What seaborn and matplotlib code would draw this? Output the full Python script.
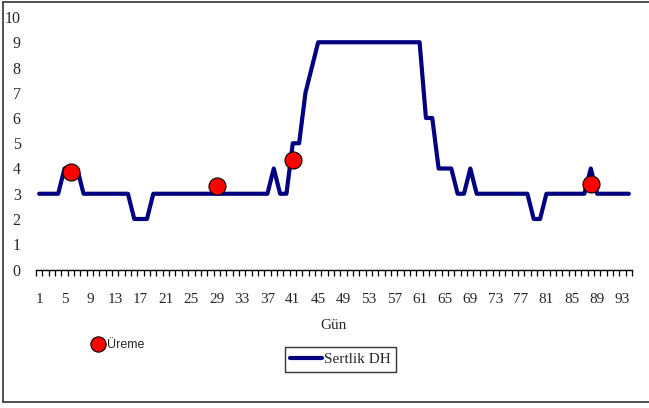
import numpy as np
import matplotlib
matplotlib.use('Agg')
import matplotlib.pyplot as plt
from matplotlib.lines import Line2D
import seaborn as sns

#%%
# Günlük sertlik değerleri (DH), gün 1..94
gun = list(range(1, 95))
sertlik = [3, 3, 3, 3, 4, 4, 4, 3, 3, 3,
           3, 3, 3, 3, 3, 2, 2, 2, 3, 3,
           3, 3, 3, 3, 3, 3, 3, 3, 3, 3,
           3, 3, 3, 3, 3, 3, 3, 4, 3, 3,
           5, 5, 7, 8, 9, 9, 9, 9, 9, 9,
           9, 9, 9, 9, 9, 9, 9, 9, 9, 9,
           9, 6, 6, 4, 4, 4, 3, 3, 4, 3,
           3, 3, 3, 3, 3, 3, 3, 3, 2, 2,
           3, 3, 3, 3, 3, 3, 3, 4, 3, 3,
           3, 3, 3, 3]

# Üreme görülen günler
ureme_gun = [6, 29, 41, 88]
ureme_deger = [3.85, 3.3, 4.35, 3.4]

x_etiketleri = list(range(1, 95, 4))
y_etiketleri = list(range(0, 11))

#%%
sns.set_style('white')
plt.rcParams['font.family'] = ['Liberation Serif', 'DejaVu Serif']

fig = plt.figure(figsize=(6.49, 4.08), dpi=100)
ax = fig.add_axes([36 / 649, (408 - 269.5) / 408, 596 / 649, 252.5 / 408])

sns.lineplot(x=gun, y=sertlik, color='#000080', linewidth=3, ax=ax, zorder=2,
             solid_joinstyle='round', solid_capstyle='round')
sns.scatterplot(x=ureme_gun, y=ureme_deger, s=150, color='#ff0000',
                edgecolor='black', linewidth=0.8, ax=ax, zorder=3)

ax.set_xlim(0.5, 94.5)
ax.set_ylim(0, 10)

ax.set_xticks(x_etiketleri)
ax.set_xticklabels([str(v) for v in x_etiketleri], fontsize=11)
ax.set_xticks(np.arange(0.5, 95, 1), minor=True)
ax.tick_params(axis='x', which='major', bottom=True, length=0, pad=17)
ax.tick_params(axis='x', which='minor', bottom=True, length=4.5, width=0.9,
               color='black', direction='out')

ax.set_yticks(y_etiketleri)
ax.set_yticklabels([str(v) for v in y_etiketleri], fontsize=11.5)
ax.tick_params(axis='y', length=0, pad=11)

for s in ['top', 'right', 'left']:
    ax.spines[s].set_visible(False)
ax.spines['bottom'].set_color('black')
ax.spines['bottom'].set_linewidth(1)

ax.set_xlabel('Gün', fontsize=11, labelpad=9)
ax.set_ylabel('')

# Lejantlar
h_ureme = Line2D([], [], marker='o', linestyle='none', markersize=11,
                 markerfacecolor='#ff0000', markeredgecolor='black', markeredgewidth=0.8)
leg1 = fig.legend([h_ureme], ['Üreme'], loc='center left',
                  bbox_to_anchor=(84 / 649, 1 - 345 / 408), frameon=False,
                  handletextpad=0.1, borderpad=0, handlelength=1.2,
                  prop={'family': 'Liberation Sans', 'size': 9})

h_sertlik = Line2D([], [], color='#000080', linewidth=3)
leg2 = fig.legend([h_sertlik], ['Sertlik DH'], loc='center',
                  bbox_to_anchor=(340.5 / 649, 1 - 359.5 / 408), frameon=True,
                  fancybox=False, shadow=False, handlelength=2.1, handletextpad=0.1,
                  borderpad=0.35, borderaxespad=0, prop={'size': 11})
leg2.get_frame().set_edgecolor('black')
leg2.get_frame().set_linewidth(1)

# Dış çerçeve
for xs, ys in [([3 / 649, 3 / 649], [1 - 2 / 408, 1 - 402 / 408]),
               ([3 / 649, 1.0], [1 - 2 / 408, 1 - 2 / 408]),
               ([3 / 649, 1.0], [1 - 402 / 408, 1 - 402 / 408])]:
    fig.add_artist(Line2D(xs, ys, transform=fig.transFigure, color='#333333', linewidth=1.2))

plt.savefig('out.png', dpi=100)
